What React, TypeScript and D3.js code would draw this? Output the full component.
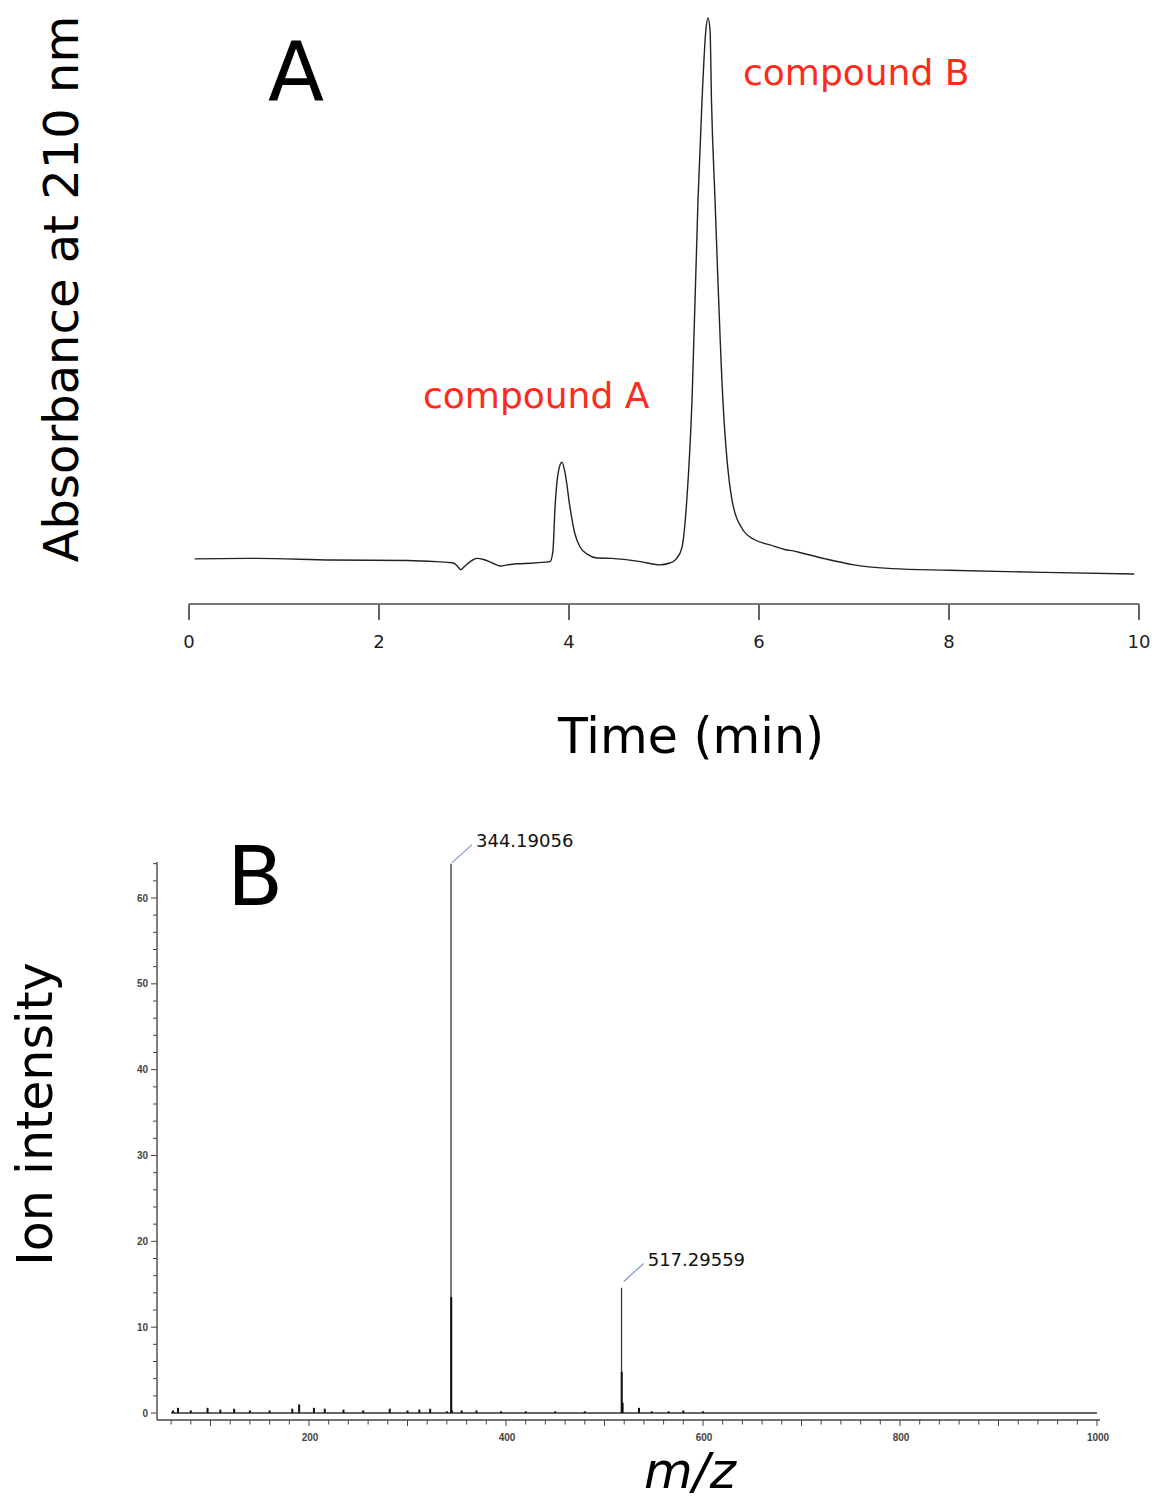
import React from "react";
import * as d3 from "d3";

// Panel A: chromatogram (time in min, absorbance in arbitrary units)
const chromTime = [0.06, 0.7, 1.5, 2.3, 2.6, 2.77, 2.82, 2.86, 2.9, 2.96, 3.03, 3.1, 3.2, 3.28, 3.35, 3.45, 3.6, 3.75, 3.8, 3.83, 3.853, 3.89, 3.926, 3.96, 4.01, 4.06, 4.116, 4.2, 4.295, 4.45, 4.75, 4.95, 5.063, 5.13, 5.19, 5.24, 5.295, 5.358, 5.4, 5.44, 5.463, 5.485, 5.5, 5.537, 5.62, 5.716, 5.83, 5.95, 6.116, 6.295, 6.36, 6.45, 6.7, 7.0, 7.4, 8.0, 9.0, 9.95];
const chromAbs = [0.2, 0.3, 0.0, -0.1, -0.3, -0.5, -1.0, -1.8, -1.2, -0.3, 0.3, 0.1, -0.6, -1.1, -0.9, -0.7, -0.6, -0.4, -0.3, 1.5, 9.8, 16.5, 18.1, 16.0, 9.8, 5.0, 2.4, 1.0, 0.37, 0.3, -0.3, -0.9, -0.56, 0.2, 2.4, 11.1, 29.6, 66.7, 85, 98, 100.4, 98, 85, 66.7, 29.6, 11.1, 5.6, 3.8, 2.8, 1.85, 1.7, 1.3, 0.2, -0.9, -1.6, -1.9, -2.3, -2.6];
const timeTicks = [0, 2, 4, 6, 8, 10];

// Panel B: mass spectrum (m/z, ion intensity)
const specMz = [62, 67, 80, 97, 110, 124, 140, 160, 183, 190, 205, 216, 235, 255, 282, 300, 312, 323, 345, 340, 344.19, 344.4, 355, 370, 395, 420, 450, 480, 517.3, 517.5, 518.4, 535, 548, 565, 580, 600];
const specInt = [0.3, 0.6, 0.3, 0.6, 0.4, 0.5, 0.3, 0.3, 0.5, 1.0, 0.6, 0.5, 0.4, 0.3, 0.5, 0.3, 0.4, 0.5, 0.3, 0.2, 64.0, 13.5, 0.3, 0.3, 0.2, 0.2, 0.2, 0.2, 14.6, 4.8, 1.2, 0.6, 0.2, 0.2, 0.3, 0.2];
const mzTicksMajor = [200, 400, 600, 800, 1000];
const intTicksMajor = [0, 10, 20, 30, 40, 50, 60];
const peakLabels = ["344.19056", "517.29559"];
const peakLabelMz = [344.19, 518.5];
const peakLabelInt = [64.0, 15.2];

export default function App() {
  const W = 1161, H = 1499;
  // Panel A scales
  const xA = d3.scaleLinear().domain([0, 10]).range([189, 1139]);
  const yA = d3.scaleLinear().domain([0, 100]).range([560, 20]);
  const lineA = d3
    .line<number>()
    .x((_, i) => xA(chromTime[i]))
    .y((d) => yA(d))
    .curve(d3.curveMonotoneX);
  const pathA = lineA(chromAbs) || "";

  // Panel B scales
  const xB = d3.scaleLinear().domain([200, 1000]).range([309, 1097]);
  const yB = d3.scaleLinear().domain([0, 60]).range([1413, 898]);
  const axisLeft = 157, axisBottom = 1420, axisTop = 862;
  const mzMinor = d3.range(60, 1001, 20);
  const intMinor = d3.range(0, 65, 2);

  const sansA = "'DejaVu Sans', Verdana, sans-serif";
  const sansB = "'Liberation Sans', Arial, sans-serif";

  const sticks = specMz.map((mz, i) => ({ mz, v: specInt[i] }));
  const mainIdx = new Set([20, 28]);

  return (
    <svg width={W} height={H} style={{ position: "absolute", left: 0, top: 0, background: "#fff" }}>
      <rect x={0} y={0} width={W} height={H} fill="#fff" />
      {/* ---------- Panel A ---------- */}
      <text x={268} y={100} fontFamily={sansA} fontSize={82} fill="#000">A</text>
      <text x={743} y={85} fontFamily={sansA} fontSize={36} fill="#ff2a1a">compound B</text>
      <text x={423} y={408} fontFamily={sansA} fontSize={36} fill="#ff2a1a">compound A</text>
      <text
        transform={`translate(78, 289) rotate(-90)`}
        textAnchor="middle"
        fontFamily={sansA}
        fontSize={48}
        fill="#000"
      >
        Absorbance at 210 nm
      </text>
      <path d={pathA} fill="none" stroke="#222" strokeWidth={1.4} />
      <line x1={xA(0)} x2={xA(10)} y1={604} y2={604} stroke="#777" strokeWidth={2} />
      {timeTicks.map((t) => (
        <g key={t}>
          <line x1={xA(t)} x2={xA(t)} y1={604} y2={620} stroke="#666" strokeWidth={2} />
          <text x={xA(t)} y={648} textAnchor="middle" fontFamily={sansA} fontSize={18} fill="#222">
            {t}
          </text>
        </g>
      ))}
      <text x={691} y={753} textAnchor="middle" fontFamily={sansA} fontSize={49} fill="#000">
        Time (min)
      </text>

      {/* ---------- Panel B ---------- */}
      <text x={227} y={905} fontFamily={sansA} fontSize={82} fill="#000">B</text>
      <text
        transform={`translate(52, 1114) rotate(-90)`}
        textAnchor="middle"
        fontFamily={sansA}
        fontSize={49}
        fill="#000"
      >
        Ion intensity
      </text>
      <text x={690} y={1488} textAnchor="middle" fontFamily={sansA} fontSize={50} fontStyle="italic" fill="#000">
        m/z
      </text>

      {/* axes */}
      <line x1={axisLeft} x2={axisLeft} y1={axisTop} y2={axisBottom} stroke="#555" strokeWidth={1.5} />
      <line x1={axisLeft} x2={1100} y1={axisBottom} y2={axisBottom} stroke="#444" strokeWidth={1.5} />
      {intMinor.map((v) => (
        <line key={"ym" + v} x1={axisLeft - (v % 10 === 0 ? 6 : 4)} x2={axisLeft} y1={yB(v)} y2={yB(v)} stroke="#444" strokeWidth={1} />
      ))}
      {intTicksMajor.map((v) => (
        <text key={"yl" + v} x={148} y={yB(v) + 3.5} textAnchor="end" fontFamily={sansB} fontSize={10} fontWeight="bold" fill="#444">
          {v}
        </text>
      ))}
      {mzMinor.map((m) => (
        <line key={"xm" + m} x1={xB(m)} x2={xB(m)} y1={axisBottom} y2={axisBottom + (m % 100 === 0 ? 6 : 4.5)} stroke="#444" strokeWidth={1} />
      ))}
      {mzTicksMajor.map((m) => (
        <text key={"xl" + m} x={xB(m) + 1} y={1441} textAnchor="middle" fontFamily={sansB} fontSize={10} fontWeight="bold" fill="#444">
          {m}
        </text>
      ))}

      {/* spectrum baseline */}
      <line x1={xB(60)} x2={xB(1000)} y1={yB(0)} y2={yB(0)} stroke="#666" strokeWidth={1.8} />
      {sticks.map((s, i) => (
        <line
          key={"s" + i}
          x1={xB(s.mz)}
          x2={xB(s.mz)}
          y1={yB(0)}
          y2={yB(s.v)}
          stroke={mainIdx.has(i) ? "#333" : "#111"}
          strokeWidth={mainIdx.has(i) ? 1.3 : 2}
        />
      ))}

      {/* peak labels */}
      {peakLabels.map((lab, i) => {
        const px = xB(peakLabelMz[i]);
        const py = yB(peakLabelInt[i]);
        return (
          <g key={lab}>
            <line x1={px + 1} y1={py - 1} x2={px + 21} y2={py - 19} stroke="#7a9ad0" strokeWidth={1.2} />
            <text x={px + 25} y={py - 17} fontFamily={sansA} fontSize={18} fill="#111">
              {lab}
            </text>
          </g>
        );
      })}
    </svg>
  );
}
